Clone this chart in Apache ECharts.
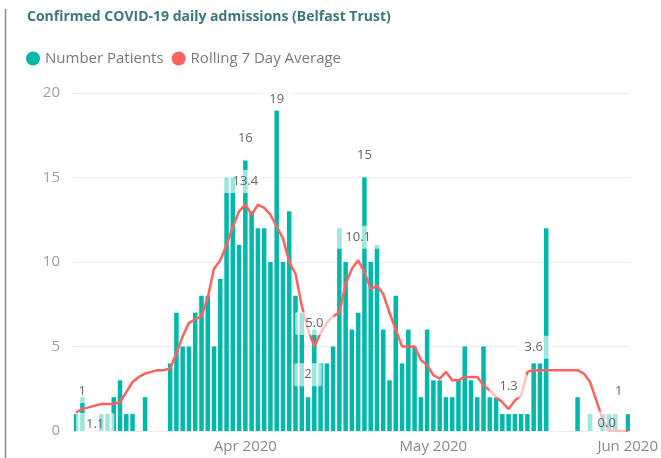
<!DOCTYPE html>
<html>
<head>
<meta charset="utf-8">
<title>Confirmed COVID-19 daily admissions (Belfast Trust)</title>
<script src="https://cdn.jsdelivr.net/npm/echarts@6/dist/echarts.min.js"></script>
<style>
  html, body { margin: 0; padding: 0; background: #ffffff; }
  #chart { width: 661px; height: 458px; }
</style>
</head>
<body>
<div id="chart"></div>
<script>
// Daily categories: 5 March 2020 to 1 June 2020
const firstDay = '2020-03-05';
const dayCount = 89;

// Daily admissions (null = no admissions recorded that day)
const patients = [
  1, 2, null, null, 1, 1, 2, 3, 1, 1, null, 2, null, null, null, 4, 7, 5, 5, 7,
  8, 8, 5, 9, 15, 15, 11, 16, 13, 12, 12, 10, 19, 10, 13, 8, 7, 2, 6, 4,
  4, 5, 12, 10, 6, 7, 15, 10, 11, 6, 3, 8, 4, 6, 5, 2, 6, 3, 3, 2,
  2, 3, 5, 3, 2, 5, 2, 2, 1, 1, 1, 1, 1, 4, 4, 12, null, null, null, null,
  2, null, 1, null, 1, 1, 1, null, 1
];

// Rolling 7 day average of admissions
const rollingAvg = [
  1.1, 1.3, 1.4, 1.5, 1.6, 1.6, 1.6, 1.7, 2.3, 2.9, 3.2, 3.4, 3.5, 3.6, 3.6, 3.7, 4.6, 5.6, 6.4, 6.6,
  6.8, 7.9, 9.6, 10.1, 11.0, 12.1, 13.0, 13.4, 12.8, 13.4, 13.2, 12.8, 12.1, 11.4, 10.0, 9.3, 7.4, 6.0, 5.0, 5.8,
  6.4, 6.8, 7.0, 8.7, 9.6, 10.1, 9.4, 8.4, 8.6, 8.1, 7.0, 6.0, 5.0, 5.0, 5.0, 4.2, 3.9, 3.3, 3.1, 3.5,
  3.0, 3.0, 3.2, 3.2, 3.2, 2.7, 2.4, 2.0, 1.7, 1.3, 1.8, 2.1, 3.5, 3.6, 3.6, 3.6, 3.6, 3.6, 3.6, 3.6,
  3.6, 3.4, 2.9, 1.8, 0.7, 0.0, 0.0, 0.0, 0.0
];

// Days whose values are printed on the chart
const patientLabelDays = ['2020-03-05', '2020-04-01', '2020-04-06', '2020-04-11', '2020-04-20', '2020-06-01'];
const averageLabelDays = ['2020-03-05', '2020-04-01', '2020-04-12', '2020-04-19', '2020-05-13', '2020-05-17', '2020-06-01'];

// Axis text
const monthTickLabels = { '04': 'Apr 2020', '05': 'May 2020', '06': 'Jun 2020' };
const yTicks = [0, 5, 10, 15, 20];

const seriesNames = ['Number Patients', 'Rolling 7 Day Average'];
const titleText = 'Confirmed COVID-19 daily admissions (Belfast Trust)';

// ---- build the category list ----
const days = [];
{
  const [y, m, d] = firstDay.split('-').map(Number);
  const start = Date.UTC(y, m - 1, d);
  for (let i = 0; i < dayCount; i++) {
    days.push(new Date(start + i * 86400000).toISOString().slice(0, 10));
  }
}

const FONT = '"Open Sans", "Noto Sans", sans-serif';
const labelBase = {
  show: true,
  color: '#666666',
  fontSize: 13,
  fontFamily: FONT,
  backgroundColor: 'rgba(255,255,255,0.62)',
  padding: [5, 10],
  borderRadius: 2
};

function labelFor(idx, kind) {
  const last = days.length - 1;
  const lab = Object.assign({}, labelBase);
  if (kind === 'bar') {
    lab.position = 'top';
    lab.distance = 11;
    lab.formatter = p => String(p.value);
    if (idx === 0) lab.offset = [6, 0];
    if (idx === last) lab.offset = [-9, 0];
    if (patients[idx] >= 18) lab.distance = -1;
  } else {
    lab.position = 'top';
    lab.distance = 11;
    lab.formatter = p => Number(p.value).toFixed(1);
    if (idx === 0) { lab.position = 'bottom'; lab.distance = 0; lab.offset = [19, 0]; }
    if (idx === last) { lab.distance = -4; lab.offset = [-21, 0]; }
  }
  return lab;
}

const barData = patients.map((v, i) =>
  patientLabelDays.includes(days[i]) ? { value: v, label: labelFor(i, 'bar') } : v);
const lineData = rollingAvg.map((v, i) =>
  averageLabelDays.includes(days[i]) ? { value: v, label: labelFor(i, 'line') } : v);

const chart = echarts.init(document.getElementById('chart'), null, { renderer: 'canvas' });

chart.setOption({
  animation: false,
  backgroundColor: '#ffffff',
  color: ['#01B8AA', '#FD625E'],
  title: {
    text: titleText,
    left: 27,
    top: 10,
    padding: 0,
    textStyle: { fontFamily: FONT, fontSize: 14, fontWeight: 'bold', color: '#3a7a74' }
  },
  legend: {
    left: 26,
    top: 51,
    padding: 0,
    icon: 'circle',
    itemWidth: 14,
    itemHeight: 14,
    itemGap: 8,
    data: seriesNames,
    textStyle: { fontFamily: FONT, fontSize: 15, color: '#7a7a7a' }
  },
  graphic: [{
    type: 'line',
    shape: { x1: 5.5, y1: 9, x2: 5.5, y2: 458 },
    style: { stroke: '#8a8a8a', lineWidth: 1.5 },
    silent: true
  }],
  grid: { left: 73, right: 29, top: 93, bottom: 27 },
  xAxis: {
    type: 'category',
    data: days,
    boundaryGap: true,
    axisLine: { show: false },
    axisTick: { show: false },
    splitLine: { show: false },
    axisLabel: {
      interval: (i, v) => v.endsWith('-01'),
      formatter: v => monthTickLabels[v.slice(5, 7)] || '',
      color: '#8a8a8a',
      fontFamily: FONT,
      fontSize: 15,
      margin: 8
    }
  },
  yAxis: {
    type: 'value',
    min: yTicks[0],
    max: yTicks[yTicks.length - 1],
    interval: 5,
    axisLine: { show: false },
    axisTick: { show: false },
    axisLabel: { color: '#a0a0a0', fontFamily: FONT, fontSize: 15, margin: 13 },
    splitLine: { lineStyle: { color: '#ececec', width: 1 } }
  },
  series: [
    {
      name: seriesNames[0],
      type: 'bar',
      data: barData,
      barWidth: '72%',
      z: 2,
      itemStyle: { color: '#01B8AA' }
    },
    {
      name: seriesNames[1],
      type: 'line',
      data: lineData,
      z: 3,
      symbol: 'circle',
      symbolSize: 1,
      showSymbol: true,
      showAllSymbol: true,
      connectNulls: true,
      lineStyle: { color: '#FD625E', width: 2.5 },
      itemStyle: { color: '#FD625E' }
    }
  ]
});
</script>
</body>
</html>
